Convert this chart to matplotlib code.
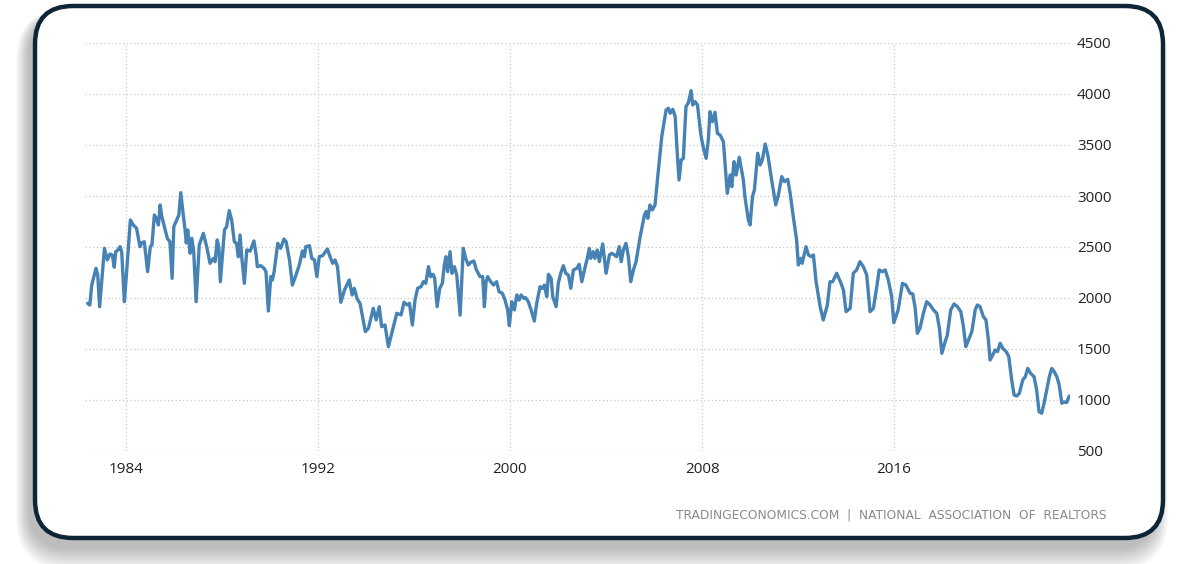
import matplotlib
matplotlib.use("Agg")
import matplotlib.pyplot as plt
from matplotlib.patches import FancyBboxPatch

# ---- data (decimal year, thousands of homes) ----
years = [
    1982.40, 1982.49, 1982.57, 1982.75, 1982.82, 1982.90, 1983.10, 1983.22, 1983.33, 1983.43,
    1983.51, 1983.57, 1983.66, 1983.75, 1983.82, 1983.93, 1984.01, 1984.18, 1984.30, 1984.44,
    1984.58, 1984.65, 1984.76, 1984.90, 1985.01, 1985.08, 1985.18, 1985.28, 1985.35, 1985.42,
    1985.49, 1985.60, 1985.72, 1985.83, 1985.92, 1985.99, 1986.11, 1986.20, 1986.28, 1986.36,
    1986.46, 1986.51, 1986.57, 1986.67, 1986.74, 1986.82, 1986.92, 1987.05, 1987.22, 1987.36,
    1987.50, 1987.64, 1987.71, 1987.80, 1987.87, 1987.93, 1988.10, 1988.19, 1988.30, 1988.40,
    1988.51, 1988.60, 1988.68, 1988.75, 1988.82, 1988.93, 1989.03,
    1989.17, 1989.33, 1989.42, 1989.47, 1989.61, 1989.75, 1989.83, 1989.93, 1990.03, 1990.10,
    1990.17, 1990.32, 1990.44, 1990.58, 1990.67, 1990.81, 1990.93, 1991.08, 1991.22, 1991.35,
    1991.43, 1991.49, 1991.64, 1991.74, 1991.85, 1991.95, 1992.05, 1992.19, 1992.39, 1992.50,
    1992.61, 1992.71, 1992.81, 1992.95, 1993.10, 1993.30, 1993.42, 1993.51, 1993.63, 1993.75,
    1993.97, 1994.10, 1994.30, 1994.42, 1994.55, 1994.65, 1994.79, 1994.93, 1995.07, 1995.28,
    1995.46, 1995.58, 1995.72, 1995.81, 1995.93,
    1996.04, 1996.15, 1996.29, 1996.39, 1996.49, 1996.60, 1996.69, 1996.79, 1996.86, 1996.96,
    1997.07, 1997.18, 1997.26, 1997.33, 1997.40, 1997.50, 1997.58, 1997.68, 1997.78, 1997.92,
    1998.05, 1998.15, 1998.26, 1998.36, 1998.49, 1998.60, 1998.75, 1998.86, 1998.93, 1999.00,
    1999.07, 1999.17, 1999.31, 1999.44, 1999.54, 1999.68, 1999.79, 1999.90, 1999.97, 2000.07,
    2000.18, 2000.28, 2000.38, 2000.46, 2000.57, 2000.65, 2000.76, 2000.90, 2001.01, 2001.11,
    2001.25, 2001.35, 2001.43, 2001.53, 2001.60, 2001.71, 2001.78, 2001.92, 2002.01, 2002.11,
    2002.22, 2002.32, 2002.43, 2002.53, 2002.64, 2002.78, 2002.88,
    2002.99, 2003.13, 2003.22, 2003.30, 2003.36, 2003.46, 2003.53, 2003.63, 2003.72, 2003.86,
    2004.00, 2004.14, 2004.24, 2004.35, 2004.44, 2004.55, 2004.63, 2004.72, 2004.83, 2004.93,
    2005.03, 2005.14, 2005.25, 2005.42, 2005.60, 2005.67, 2005.74, 2005.83, 2005.93, 2006.04,
    2006.14, 2006.32, 2006.50, 2006.60, 2006.67, 2006.78, 2006.88, 2006.95, 2007.04, 2007.13,
    2007.22, 2007.33, 2007.43, 2007.54, 2007.61, 2007.71, 2007.81, 2007.95, 2008.06, 2008.17,
    2008.26, 2008.33, 2008.43, 2008.54, 2008.64, 2008.75, 2008.89, 2009.05, 2009.17, 2009.24,
    2009.33, 2009.42, 2009.55, 2009.72,
    2009.79, 2009.93, 2010.00, 2010.10, 2010.18, 2010.32, 2010.42, 2010.51, 2010.63, 2010.74,
    2010.90, 2011.07, 2011.18, 2011.32, 2011.43, 2011.57, 2011.67, 2011.80, 2011.94, 2012.01,
    2012.11, 2012.17, 2012.33, 2012.43, 2012.54, 2012.64, 2012.75, 2012.92, 2013.05, 2013.22,
    2013.33, 2013.44, 2013.61, 2013.79, 2013.89, 2014.00, 2014.17, 2014.30, 2014.44, 2014.58,
    2014.72, 2014.86, 2015.00, 2015.14, 2015.28, 2015.38, 2015.51, 2015.63, 2015.76, 2015.90,
    2015.99, 2016.17, 2016.35, 2016.49, 2016.67,
    2016.78, 2016.88, 2016.97, 2017.08, 2017.22, 2017.36, 2017.50, 2017.64, 2017.78, 2017.89,
    2017.99, 2018.13, 2018.22, 2018.36, 2018.50, 2018.64, 2018.78, 2018.89, 2018.99, 2019.10,
    2019.24, 2019.38, 2019.47, 2019.58, 2019.72, 2019.83, 2019.93, 2020.00, 2020.11, 2020.21,
    2020.31, 2020.42, 2020.53, 2020.67, 2020.78, 2020.90, 2021.00, 2021.11, 2021.22, 2021.36,
    2021.47, 2021.57, 2021.69, 2021.83, 2021.94, 2022.04, 2022.15, 2022.25, 2022.36, 2022.47,
    2022.57, 2022.67, 2022.78, 2022.88, 2022.99, 2023.08, 2023.19, 2023.30,
]
inventory = [
    1948, 1931, 2127, 2291, 2225, 1915, 2487, 2373, 2431, 2420,
    2301, 2454, 2470, 2503, 2450, 1964, 2210, 2765, 2716, 2683,
    2503, 2540, 2552, 2258, 2503, 2520, 2814, 2771, 2716, 2912,
    2800, 2699, 2585, 2550, 2193, 2699, 2765, 2814, 3033, 2863,
    2667, 2540, 2667, 2438, 2585, 2454, 1964, 2520, 2634, 2503,
    2340, 2389, 2356, 2569, 2487, 2160, 2667, 2699, 2856, 2765,
    2552, 2536, 2405, 2618, 2405, 2144, 2471,
    2460, 2559, 2425, 2307, 2317, 2291, 2258, 1873, 2210, 2177,
    2258, 2536, 2487, 2578, 2552, 2373, 2127, 2225, 2324, 2461,
    2405, 2503, 2513, 2389, 2373, 2210, 2405, 2415, 2480, 2405,
    2340, 2373, 2307, 1958, 2078, 2177, 2030, 2095, 1990, 1948,
    1670, 1703, 1899, 1785, 1915, 1719, 1736, 1523, 1654, 1850,
    1834, 1958, 1932, 1948, 1735,
    1980, 2095, 2111, 2160, 2144, 2307, 2209, 2232, 2193, 1915,
    2095, 2144, 2324, 2405, 2258, 2454, 2242, 2307, 2225, 1833,
    2487, 2389, 2324, 2350, 2363, 2275, 2209, 2209, 1915, 2160,
    2209, 2167, 2127, 2160, 2062, 2046, 1980, 1883, 1729, 1964,
    1883, 2030, 1980, 2030, 1997, 2003, 1964, 1866, 1774, 1948,
    2111, 2095, 2127, 2013, 2232, 2193, 2013, 1915, 2144, 2242,
    2317, 2242, 2225, 2095, 2275, 2291, 2330,
    2160, 2307, 2389, 2487, 2389, 2454, 2389, 2471, 2356, 2530,
    2242, 2422, 2438, 2422, 2405, 2503, 2356, 2471, 2536, 2405,
    2160, 2275, 2356, 2601, 2814, 2847, 2781, 2912, 2863, 2912,
    3157, 3582, 3843, 3860, 3811, 3850, 3778, 3484, 3157, 3353,
    3369, 3876, 3915, 4033, 3892, 3925, 3892, 3598, 3467, 3369,
    3549, 3827, 3729, 3820, 3614, 3598, 3532, 3026, 3206, 3092,
    3337, 3206, 3380, 3157,
    2985, 2765, 2716, 2993, 3059, 3419, 3304, 3353, 3510, 3402,
    3157, 2912, 3010, 3190, 3141, 3163, 3026, 2797, 2569, 2324,
    2389, 2340, 2503, 2422, 2405, 2422, 2160, 1915, 1784, 1932,
    2160, 2160, 2242, 2144, 2078, 1866, 1899, 2242, 2275, 2356,
    2307, 2226, 1866, 1899, 2111, 2275, 2258, 2275, 2177, 2013,
    1758, 1883, 2144, 2127, 2046,
    2040, 1899, 1654, 1703, 1850, 1964, 1932, 1883, 1850, 1703,
    1458, 1572, 1637, 1883, 1942, 1915, 1866, 1719, 1523, 1588,
    1670, 1883, 1932, 1915, 1817, 1785, 1588, 1392, 1441, 1490,
    1474, 1556, 1507, 1474, 1425, 1196, 1049, 1039, 1065, 1196,
    1229, 1310, 1261, 1229, 1098, 886, 870, 968, 1098, 1229,
    1310, 1278, 1229, 1147, 968, 980, 975, 1039,
]
x_ticks = [1984, 1992, 2000, 2008, 2016]
x_tick_labels = ["1984", "1992", "2000", "2008", "2016"]
y_ticks = [500, 1000, 1500, 2000, 2500, 3000, 3500, 4000, 4500]
source_text = "TRADINGECONOMICS.COM  |  NATIONAL  ASSOCIATION  OF  REALTORS"

W, H = 1200, 564
fig = plt.figure(figsize=(W / 100, H / 100), dpi=100)
fig.patch.set_facecolor("white")

# ---- background frame with shadow (pixel coordinates) ----
bg = fig.add_axes([0, 0, 1, 1], zorder=0)
bg.set_xlim(0, W)
bg.set_ylim(H, 0)
bg.axis("off")

fx0, fy0, fx1, fy1 = 35, 6, 1163, 538
rad = 38
# soft shadow, offset down-left
n_layers = 10
for i in range(n_layers):
    grow = 14 - 1.4 * i
    sh = FancyBboxPatch((fx0 - 5 - grow, fy0 + 9 - grow * 0.4),
                        (fx1 - fx0) + 2 * grow - 4, (fy1 - fy0) + 2 * grow,
                        boxstyle=f"round,pad=0,rounding_size={rad + grow}",
                        linewidth=0, facecolor="black", alpha=0.028)
    bg.add_patch(sh)
frame = FancyBboxPatch((fx0, fy0), fx1 - fx0, fy1 - fy0,
                       boxstyle=f"round,pad=0,rounding_size={rad}",
                       linewidth=3.2, edgecolor="#0e2536", facecolor="white")
bg.add_patch(frame)

# ---- main chart ----
ax_l, ax_r, ax_t, ax_b = 85, 1070, 43, 451
ax = fig.add_axes([ax_l / W, 1 - ax_b / H, (ax_r - ax_l) / W, (ax_b - ax_t) / H], zorder=2)
ax.patch.set_alpha(0)

ax.plot(years, inventory, color="#4682b4", linewidth=2.4, solid_joinstyle="round",
        solid_capstyle="round", zorder=3)

ax.set_xlim(1982.29, 2023.33)
ax.set_ylim(500, 4500)
ax.set_xticks(x_ticks)
ax.set_xticklabels(x_tick_labels)
ax.set_yticks(y_ticks)
ax.yaxis.tick_right()

for s in ax.spines.values():
    s.set_visible(False)

ax.grid(True, color="#c8c8c8", linestyle=(0, (1, 2)), linewidth=0.9)
ax.tick_params(axis="both", length=0, labelsize=11, labelcolor="#222222")
ax.tick_params(axis="x", pad=8)
ax.tick_params(axis="y", pad=5)
for lab in ax.get_xticklabels() + ax.get_yticklabels():
    lab.set_fontfamily("Open Sans")

fig.text(1107 / W, 1 - 515 / H, source_text, ha="right", va="center",
         fontsize=8.8, color="#8a8a8a", family="DejaVu Sans", zorder=5)

fig.savefig("out.png", dpi=100, facecolor="white")
